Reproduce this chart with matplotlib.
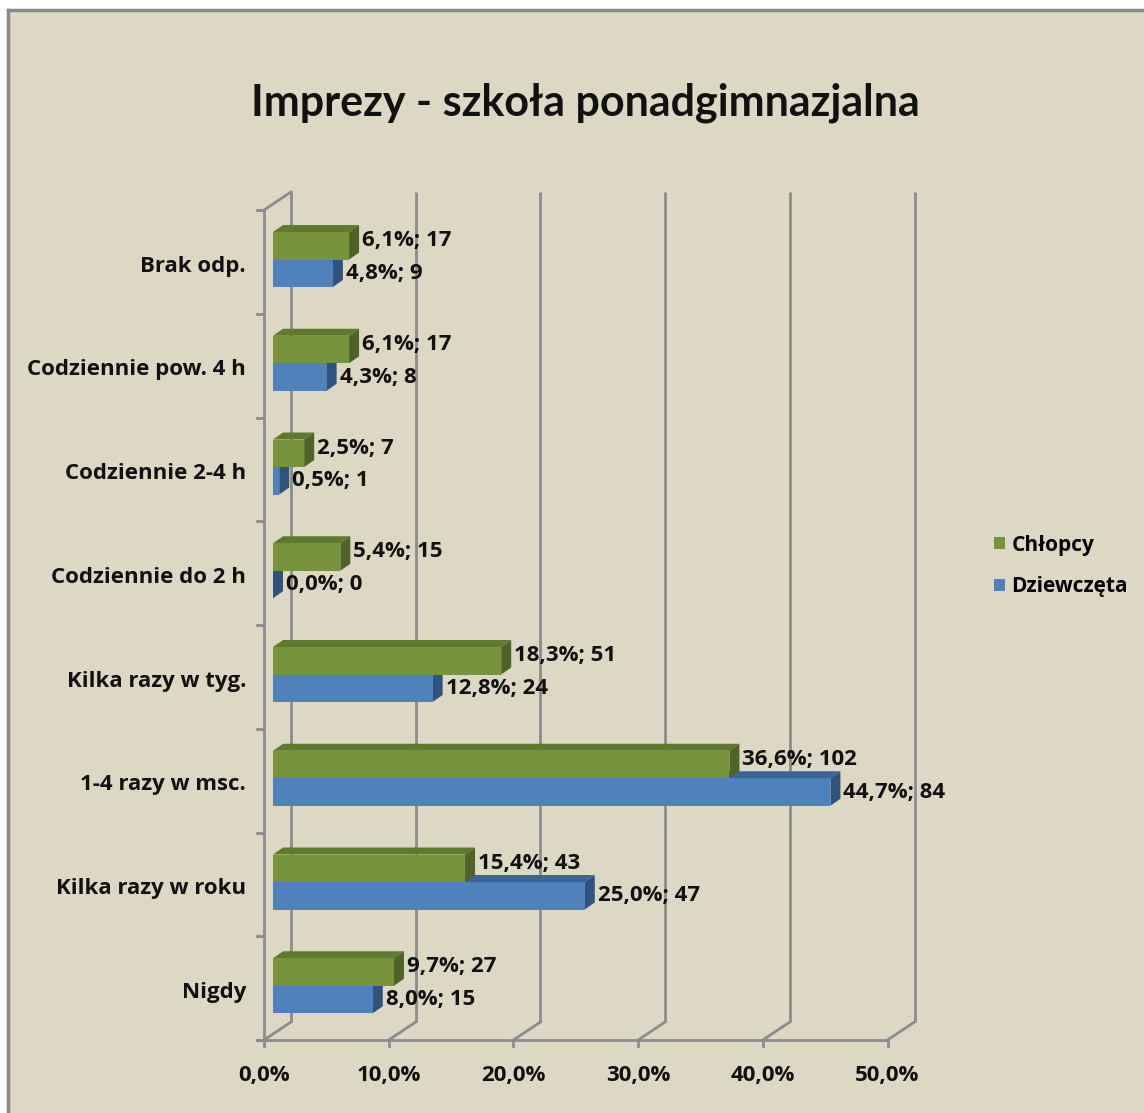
import matplotlib
matplotlib.use("Agg")
import matplotlib.pyplot as plt
from matplotlib.patches import Polygon, Rectangle, Patch
from matplotlib.lines import Line2D

plt.rcParams['font.family'] = ['Open Sans', 'DejaVu Sans']
TITLE_FONT = ['Lato', 'DejaVu Sans']

# Data
categories = ["Nigdy", "Kilka razy w roku", "1-4 razy w msc.", "Kilka razy w tyg.",
              "Codziennie do 2 h", "Codziennie 2-4 h", "Codziennie pow. 4 h", "Brak odp."]
chlopcy_pct = [9.7, 15.4, 36.6, 18.3, 5.4, 2.5, 6.1, 6.1]
chlopcy_n = [27, 43, 102, 51, 15, 7, 17, 17]
dziewczeta_pct = [8.0, 25.0, 44.7, 12.8, 0.0, 0.5, 4.3, 4.8]
dziewczeta_n = [15, 47, 84, 24, 0, 1, 8, 9]
x_ticks = [0, 10, 20, 30, 40, 50]
series_names = ["Chłopcy", "Dziewczęta"]

# Colours
BG = "#DDD8C3"
GREEN = ("#77933C", "#5F7A2E", "#4F6228")   # front, top, side
BLUE = ("#4F81BD", "#3C6496", "#30527E")
WALL = "#8C8C8C"
INK = "#111111"

W, H = 1144, 1113
fig = plt.figure(figsize=(W / 100, H / 100), dpi=100, facecolor="white")

# chart area background with top/left border
fig.patches.append(Rectangle((8 / W, 0), 1, (H - 10) / H, transform=fig.transFigure,
                             facecolor=BG, edgecolor="none", zorder=-5))
fig.lines.append(Line2D([8 / W, 1], [(H - 10) / H] * 2, transform=fig.transFigure,
                        color="#8A8A8A", lw=2.5, zorder=-4))
fig.lines.append(Line2D([8 / W] * 2, [0, (H - 10) / H], transform=fig.transFigure,
                        color="#8A8A8A", lw=2.5, zorder=-4))

ax = fig.add_axes([0, 0, 1, 1])
ax.set_facecolor("none")
ax.axis("off")
px_per_pct = 12.47
px_per_cat = 103.75
x0_px, y0_px = 273, 1034
ax.set_xlim(-x0_px / px_per_pct, (W - x0_px) / px_per_pct)
ax.set_ylim(-(H - y0_px) / px_per_cat, y0_px / px_per_cat)

# 3D depth offsets (data units)
bdx, bdy = 10 / px_per_pct, 7 / px_per_cat          # bar depth
fdx, fdy = -9 / px_per_pct, -6 / px_per_cat         # front plane relative to bar plane
kdx, kdy = 18 / px_per_pct, 12 / px_per_cat         # back plane relative to bar plane
ncat = len(categories)
xmax = x_ticks[-1]

# back wall gridlines and floor diagonals
for v in x_ticks:
    ax.plot([v + kdx, v + kdx], [kdy, ncat + kdy], color=WALL, lw=2, zorder=1,
            solid_capstyle="butt")
    ax.plot([v + fdx, v + kdx], [fdy, kdy], color=WALL, lw=2, zorder=1)
    ax.plot([v + fdx, v + fdx], [fdy, fdy - 6 / px_per_cat], color=WALL, lw=2, zorder=1)
# front floor edge
ax.plot([fdx - 7 / px_per_pct, xmax + fdx], [fdy, fdy], color=WALL, lw=2, zorder=1)
# left wall front edge and top
ax.plot([fdx, fdx], [fdy, ncat + fdy], color=WALL, lw=2, zorder=1)
ax.plot([fdx, kdx], [ncat + fdy, ncat + kdy], color=WALL, lw=2, zorder=1)
for k in range(ncat + 1):
    ax.plot([fdx - 7 / px_per_pct, fdx], [k + fdy, k + fdy], color=WALL, lw=2, zorder=1)

# bars
bar_h = 0.265
y_blue = [i + 0.2 for i in range(ncat)]
y_green = [i + 0.2 + bar_h for i in range(ncat)]


def faces(ax, ys, vals, cols, z):
    ax.barh(ys, vals, height=bar_h, left=0, align="edge", color=cols[0],
            edgecolor="none", zorder=z + 0.2)
    for y, v in zip(ys, vals):
        top = y + bar_h
        ax.add_patch(Polygon([(0, top), (v, top), (v + bdx, top + bdy), (bdx, top + bdy)],
                             closed=True, facecolor=cols[1], edgecolor="none", zorder=z))
        ax.add_patch(Polygon([(v, y), (v, top), (v + bdx, top + bdy), (v + bdx, y + bdy)],
                             closed=True, facecolor=cols[2], edgecolor="none", zorder=z + 0.1))


faces(ax, y_blue, dziewczeta_pct, BLUE, 2)
faces(ax, y_green, chlopcy_pct, GREEN, 3)

lab_fs = 16
gap = 3 / px_per_pct


def fmt(p, n):
    return f"{p:.1f}".replace(".", ",") + f"%; {n}"


for y, p, n in zip(y_green, chlopcy_pct, chlopcy_n):
    ax.text(p + bdx + gap, y + bar_h / 2 + 0.05, fmt(p, n), ha="left", va="center",
            fontsize=lab_fs, fontweight="bold", color=INK, zorder=5)
for y, p, n in zip(y_blue, dziewczeta_pct, dziewczeta_n):
    ax.text(p + bdx + gap, y + bar_h / 2, fmt(p, n), ha="left", va="center",
            fontsize=lab_fs, fontweight="bold", color=INK, zorder=5)

# category labels
for i, c in enumerate(categories):
    ax.text(fdx - 18 / px_per_pct, i + 0.5 + fdy - 0.04, c, ha="right", va="center",
            fontsize=16, fontweight="bold", color=INK)

# x tick labels
for v in x_ticks:
    ax.text(v + fdx, fdy - 35 / px_per_cat, f"{v:.1f}".replace(".", ",") + "%",
            ha="center", va="center", fontsize=16, fontweight="bold", color=INK)

# title
fig.text(585 / W, 1 - 103 / H, "Imprezy - szkoła ponadgimnazjalna", ha="center",
         va="center", fontsize=31, fontweight="bold", color=INK, family=TITLE_FONT)

# legend
handles = [Patch(facecolor=GREEN[0], edgecolor="none"),
           Patch(facecolor=BLUE[0], edgecolor="none")]
fig.legend(handles, series_names, loc="center left",
           bbox_to_anchor=(975 / W, 1 - 566 / H), frameon=False,
           prop={"size": 15, "weight": "bold"}, handlelength=0.55, handleheight=0.55,
           handletextpad=0.3, labelspacing=1.0)

fig.savefig("out.png", dpi=100, facecolor="white")
